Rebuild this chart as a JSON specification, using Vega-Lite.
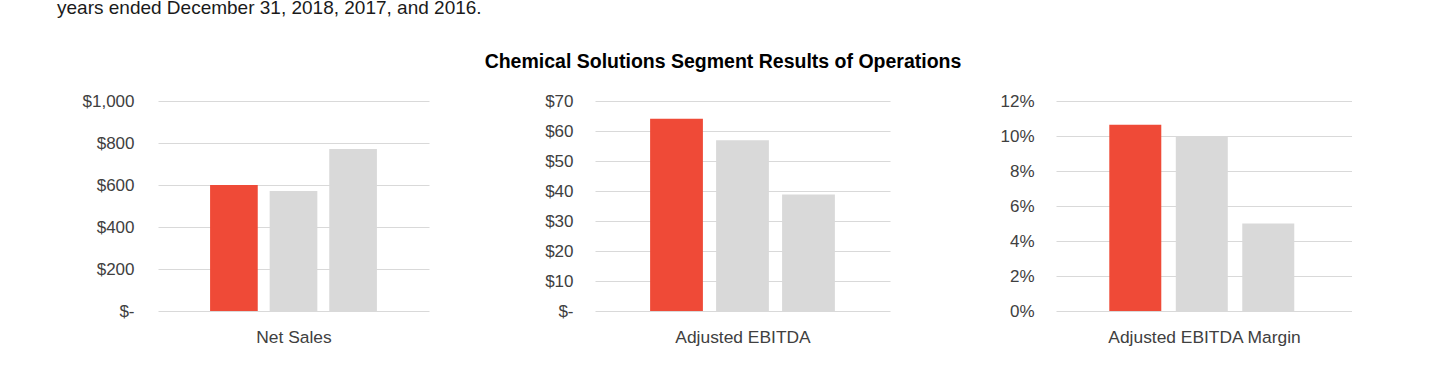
{
  "$schema": "https://vega.github.io/schema/vega-lite/v6.json",
  "padding": {"left": 57, "top": -2, "right": 0, "bottom": 0},
  "background": "white",
  "config": {
    "view": {"stroke": null},
    "font": "Liberation Sans",
    "axis": {"labelFont": "Liberation Sans", "titleFont": "Liberation Sans", "labelColor": "#404040", "titleColor": "#404040"},
    "axisY": {"domain": false, "ticks": false, "grid": true, "gridColor": "#d9d9d9", "gridWidth": 1, "labelFontSize": 17, "title": null},
    "axisX": {"domain": false, "ticks": false, "labels": false, "grid": false, "titleFontSize": 17.4, "titleFontWeight": "normal", "titlePadding": 17}
  },
  "title": {"text": "years ended December 31, 2018, 2017, and 2016.", "anchor": "start", "fontSize": 19, "fontWeight": "normal", "color": "#1a1a1a", "font": "Liberation Sans", "offset": 34, "dx": -25},
  "datasets": {
    "rows": [
      {"metric": "Net Sales", "year": "2018", "value": 600},
      {"metric": "Net Sales", "year": "2017", "value": 571},
      {"metric": "Net Sales", "year": "2016", "value": 771},
      {"metric": "Adjusted EBITDA", "year": "2018", "value": 64.1},
      {"metric": "Adjusted EBITDA", "year": "2017", "value": 56.9},
      {"metric": "Adjusted EBITDA", "year": "2016", "value": 38.8},
      {"metric": "Adjusted EBITDA Margin", "year": "2018", "value": 0.1065},
      {"metric": "Adjusted EBITDA Margin", "year": "2017", "value": 0.1},
      {"metric": "Adjusted EBITDA Margin", "year": "2016", "value": 0.05}
    ]
  },
  "vconcat": [
    {
      "title": {"text": "Chemical Solutions Segment Results of Operations", "anchor": "middle", "fontSize": 19.5, "fontWeight": "bold", "color": "#000000", "font": "Liberation Sans", "offset": 20, "dx": 6},
      "bounds": "flush",
      "spacing": 166,
      "hconcat": [
        {
          "width": 271, "height": 210,
          "data": {"name": "rows"},
          "transform": [{"filter": "datum.metric === 'Net Sales'"}],
          "mark": {"type": "bar"},
          "encoding": {
            "x": {"field": "year", "type": "nominal", "sort": ["2018", "2017", "2016"], "scale": {"paddingInner": 0.2, "paddingOuter": 0.874}, "axis": {"title": "Net Sales"}},
            "y": {"field": "value", "type": "quantitative", "scale": {"domain": [0, 1000], "nice": false}, "axis": {"values": [0, 200, 400, 600, 800, 1000], "labelPadding": 24, "labelExpr": "datum.value === 0 ? '$-' : '$' + format(datum.value, ',')"}},
            "color": {"field": "year", "type": "nominal", "scale": {"domain": ["2018", "2017", "2016"], "range": ["#ef4a37", "#d9d9d9", "#d9d9d9"]}, "legend": null}
          }
        },
        {
          "width": 295, "height": 210,
          "data": {"name": "rows"},
          "transform": [{"filter": "datum.metric === 'Adjusted EBITDA'"}],
          "mark": {"type": "bar"},
          "encoding": {
            "x": {"field": "year", "type": "nominal", "sort": ["2018", "2017", "2016"], "scale": {"paddingInner": 0.2, "paddingOuter": 0.835}, "axis": {"title": "Adjusted EBITDA"}},
            "y": {"field": "value", "type": "quantitative", "scale": {"domain": [0, 70], "nice": false}, "axis": {"values": [0, 10, 20, 30, 40, 50, 60, 70], "labelPadding": 22, "labelExpr": "datum.value === 0 ? '$-' : '$' + datum.value"}},
            "color": {"field": "year", "type": "nominal", "scale": {"domain": ["2018", "2017", "2016"], "range": ["#ef4a37", "#d9d9d9", "#d9d9d9"]}, "legend": null}
          }
        },
        {
          "width": 296, "height": 210,
          "data": {"name": "rows"},
          "transform": [{"filter": "datum.metric === 'Adjusted EBITDA Margin'"}],
          "mark": {"type": "bar"},
          "encoding": {
            "x": {"field": "year", "type": "nominal", "sort": ["2018", "2017", "2016"], "scale": {"paddingInner": 0.218, "paddingOuter": 0.835, "align": 0.48}, "axis": {"title": "Adjusted EBITDA Margin"}},
            "y": {"field": "value", "type": "quantitative", "scale": {"domain": [0, 0.12], "nice": false}, "axis": {"values": [0, 0.02, 0.04, 0.06, 0.08, 0.1, 0.12], "labelPadding": 22, "format": ".0%"}},
            "color": {"field": "year", "type": "nominal", "scale": {"domain": ["2018", "2017", "2016"], "range": ["#ef4a37", "#d9d9d9", "#d9d9d9"]}, "legend": null}
          }
        }
      ]
    }
  ]
}
